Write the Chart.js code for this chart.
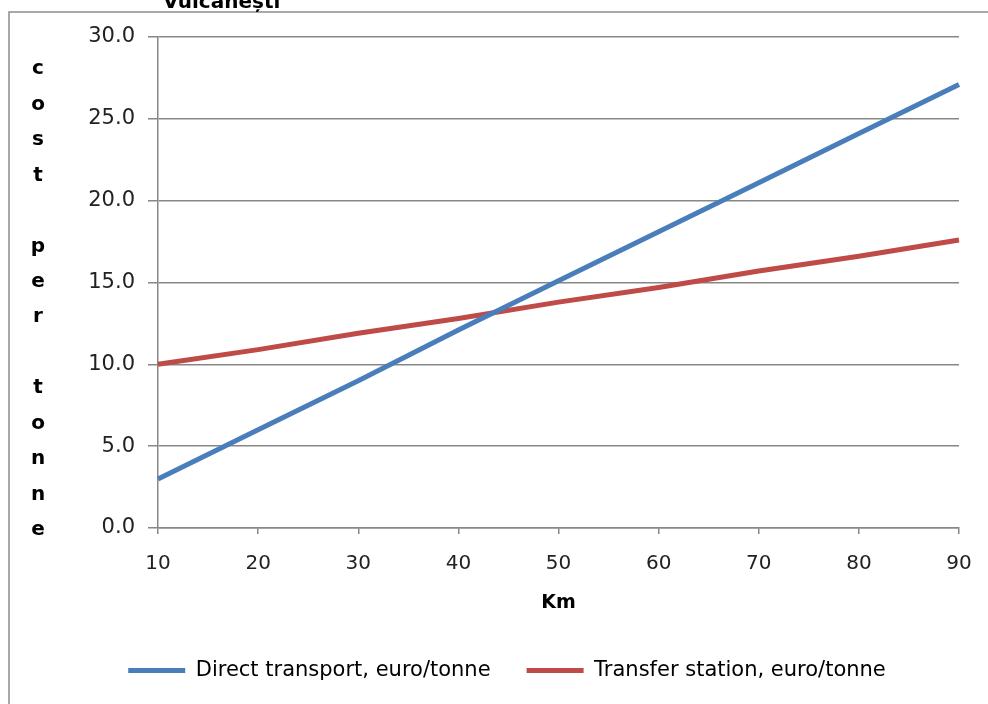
<!DOCTYPE html>
<html>
<head>
<meta charset="utf-8">
<script src="https://cdn.jsdelivr.net/npm/chart.js@4/dist/chart.umd.min.js"></script>
<style>
  html, body { margin: 0; padding: 0; background: #fff; }
  #wrap { width: 988px; height: 704px; position: relative; }
</style>
</head>
<body>
<div id="wrap"><canvas id="chart" width="988" height="704"></canvas></div>
<script>
// km categories along the x axis
const distances = ['10', '20', '30', '40', '50', '60', '70', '80', '90'];
// cost per tonne
const directTransport = [3.0, 6.0, 9.0, 12.1, 15.1, 18.1, 21.1, 24.1, 27.1];
const transferStation = [10.0, 10.9, 11.9, 12.8, 13.8, 14.7, 15.7, 16.6, 17.6];
const yTitleLetters = ['c', 'o', 's', 't', '', 'p', 'e', 'r', '', 't', 'o', 'n', 'n', 'e'];
const chartTitle = 'Vulcanești';

const FONT = "'DejaVu Sans', Verdana, sans-serif";
const GRID = '#878787';

// frame, cut-off title and the letter-by-letter y title
const decorations = {
    id: 'decorations',
    beforeDraw(chart) {
        const ctx = chart.ctx;
        ctx.save();
        ctx.strokeStyle = '#8c8c8c';
        ctx.lineWidth = 1.5;
        ctx.beginPath();
        ctx.moveTo(9, 704);
        ctx.lineTo(9, 12);
        ctx.lineTo(988, 12);
        ctx.stroke();

        ctx.fillStyle = '#000';
        ctx.font = 'bold 20px ' + FONT;
        ctx.textBaseline = 'alphabetic';
        ctx.textAlign = 'left';
        ctx.fillText(chartTitle, 163, 8);
        ctx.restore();
    },
    afterDraw(chart) {
        const ctx = chart.ctx;
        ctx.save();
        ctx.fillStyle = '#000';
        ctx.font = 'bold 20px ' + FONT;
        ctx.textAlign = 'center';
        ctx.textBaseline = 'middle';
        const top = 69, bottom = 530;
        const step = (bottom - top) / (yTitleLetters.length - 1);
        yTitleLetters.forEach((ch, i) => {
            if (ch) ctx.fillText(ch, 38, top + i * step);
        });
        ctx.restore();
    }
};

new Chart(document.getElementById('chart'), {
    type: 'line',
    data: {
        labels: distances,
        datasets: [{
            label: 'Direct transport, euro/tonne',
            data: directTransport,
            borderColor: '#4a7ebb',
            backgroundColor: '#4a7ebb',
            borderWidth: 5,
            pointRadius: 0,
            tension: 0
        }, {
            label: 'Transfer station, euro/tonne',
            data: transferStation,
            borderColor: '#be4b48',
            backgroundColor: '#be4b48',
            borderWidth: 5,
            pointRadius: 0,
            tension: 0
        }]
    },
    options: {
        responsive: false,
        animation: false,
        layout: { padding: { top: 37, right: 29, left: 55, bottom: 13 } },
        plugins: {
            tooltip: { enabled: false },
            legend: {
                position: 'bottom',
                labels: {
                    usePointStyle: true,
                    pointStyle: 'line',
                    pointStyleWidth: 57,
                    boxHeight: 5,
                    padding: 36,
                    color: '#000',
                    font: { family: FONT, size: 21 }
                }
            }
        },
        scales: {
            x: {
                type: 'category',
                offset: false,
                afterFit(scale) {
                    scale.height = 96;
                    // the tick padding is meant for the gap under the axis only
                    scale.paddingLeft = 0;
                    scale.paddingRight = 0;
                },
                grid: { drawOnChartArea: false, drawTicks: true, tickLength: 6, color: GRID, lineWidth: 1.5 },
                border: { color: GRID, width: 1.5 },
                ticks: { color: '#222', padding: 18, maxRotation: 0, font: { family: FONT, size: 20 } },
                title: {
                    display: true,
                    text: 'Km',
                    color: '#000',
                    padding: { top: 0, bottom: 10 },
                    font: { family: FONT, size: 19, weight: 'bold' }
                }
            },
            y: {
                min: 0,
                max: 30,
                afterFit(scale) { scale.width = 103; },
                grid: { color: GRID, lineWidth: 1.5, tickLength: 10 },
                border: { color: GRID, width: 1.5 },
                ticks: {
                    stepSize: 5,
                    color: '#222',
                    padding: 13,
                    font: { family: FONT, size: 21 },
                    callback: v => v.toFixed(1)
                }
            }
        }
    },
    plugins: [decorations]
});
</script>
</body>
</html>
